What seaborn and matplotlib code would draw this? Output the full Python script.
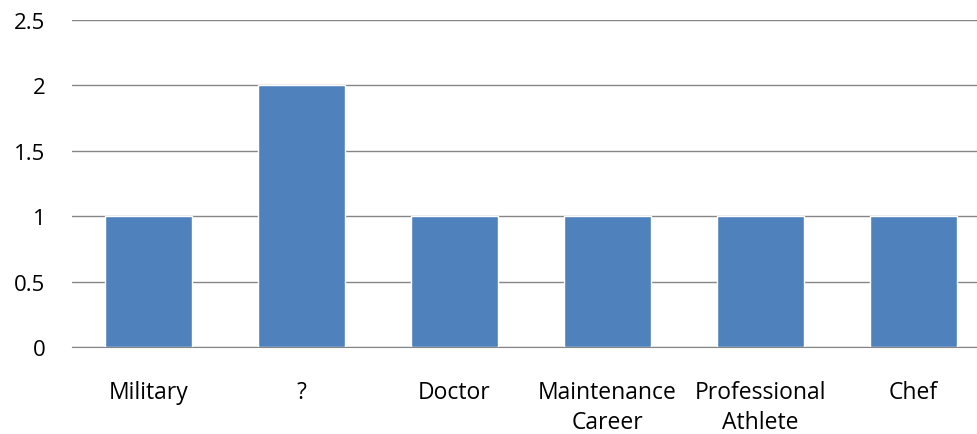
import seaborn as sns
import matplotlib.pyplot as plt
import pandas as pd

categories = ["Military", "?", "Doctor", "Maintenance\nCareer", "Professional\nAthlete", "Chef"]
counts = [1, 2, 1, 1, 1, 1]
y_ticks = [0, 0.5, 1, 1.5, 2, 2.5]

bar_color = "#4F81BD"
grid_color = "#868686"

df = pd.DataFrame({"career": categories, "count": counts})

sns.set_style("white")
plt.rcParams["font.family"] = ["Open Sans", "DejaVu Sans"]

fig = plt.figure(figsize=(9.78, 4.35), dpi=100)
# plot area runs a little past the right edge of the picture, as in the reference
ax = fig.add_axes([0.0736, 0.2, 0.9387, 0.752])

sns.barplot(data=df, x="career", y="count", color=bar_color, saturation=1,
            width=0.569, ax=ax, zorder=3)

ax.set_ylim(0, 2.5)
ax.set_yticks(y_ticks)
ax.set_yticklabels([f"{t:g}" for t in y_ticks])
ax.set_xlim(-0.5, len(categories) - 0.5)
ax.yaxis.grid(True, color=grid_color, linewidth=1, zorder=0)
ax.set_axisbelow(True)

for side in ["left", "right", "top"]:
    ax.spines[side].set_visible(False)
ax.spines["bottom"].set_color(grid_color)

ax.tick_params(axis="x", length=0, labelsize=16.5, colors="black", pad=23.5)
ax.tick_params(axis="y", length=0, labelsize=16, colors="black", pad=19)
for lbl in ax.get_xticklabels():
    lbl.set_linespacing(1.35)
ax.set_xlabel("")
ax.set_ylabel("")

fig.savefig("out.png", dpi=100)
plt.close(fig)
